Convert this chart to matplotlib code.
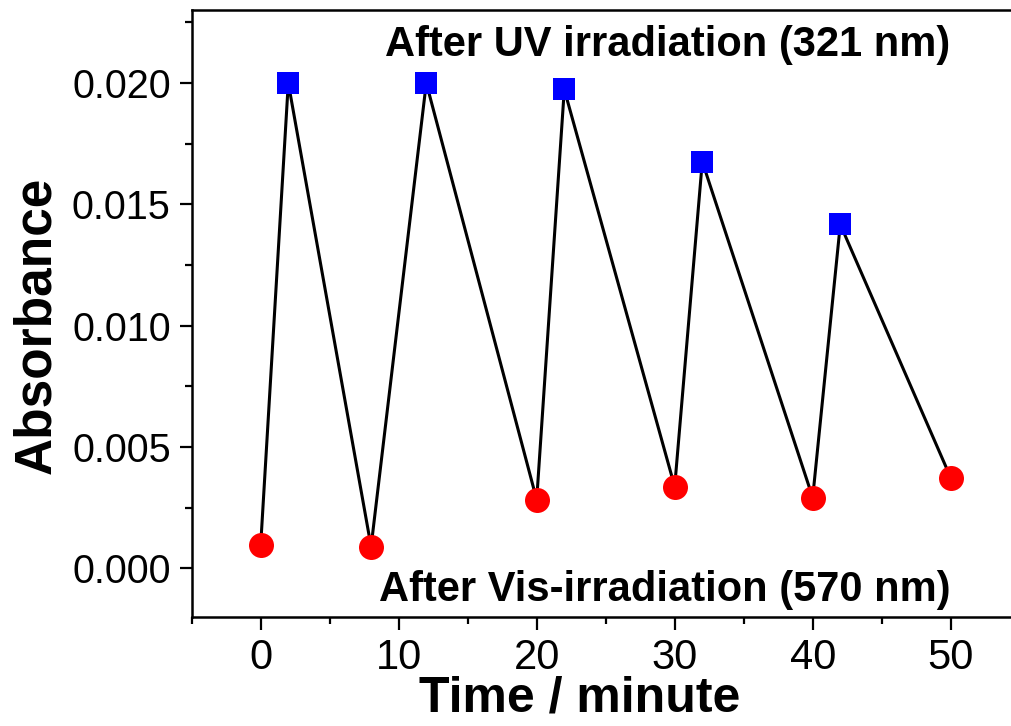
import matplotlib
matplotlib.use('Agg')
import matplotlib.pyplot as plt
from matplotlib import font_manager
from matplotlib.ticker import MultipleLocator

# Data
vis_time = [0, 8, 20, 30, 40, 50]
vis_abs = [0.00096, 0.00090, 0.00283, 0.00337, 0.00292, 0.00374]
uv_time = [2, 12, 22, 32, 42]
uv_abs = [0.0200, 0.0200, 0.01973, 0.01676, 0.01417]

# zig-zag order of measurements: vis, uv, vis, uv, ...
cycle_time = []
cycle_abs = []
for i in range(len(vis_time)):
    cycle_time.append(vis_time[i])
    cycle_abs.append(vis_abs[i])
    if i < len(uv_time):
        cycle_time.append(uv_time[i])
        cycle_abs.append(uv_abs[i])

xticks = [0, 10, 20, 30, 40, 50]
yticks = [0.000, 0.005, 0.010, 0.015, 0.020]

# pick a narrow font if available
names = {f.name for f in font_manager.fontManager.ttflist}
narrow = 'Liberation Sans Narrow' if 'Liberation Sans Narrow' in names else 'Liberation Sans'
regular = 'Liberation Sans'

fig = plt.figure(figsize=(10.11, 7.26), dpi=100)
ax = fig.add_axes([0.1896, 0.1501, 0.819, 0.836])

ax.plot(cycle_time, cycle_abs, color='black', linewidth=2.2, zorder=1)
ax.plot(uv_time, uv_abs, 's', color='#0000ff', markersize=15.5, markeredgewidth=0, zorder=2)
ax.plot(vis_time, vis_abs, 'o', color='#ff0000', markersize=18, markeredgewidth=0, zorder=2)

ax.set_xlim(-5, 55)
ax.set_ylim(-0.002, 0.023)
ax.set_xticks(xticks)
ax.set_yticks(yticks)
ax.set_yticklabels([f'{v:.3f}' for v in yticks], fontfamily=regular, fontsize=28.5)
ax.set_xticklabels([str(v) for v in xticks], fontfamily=narrow, fontsize=30)
ax.xaxis.set_minor_locator(MultipleLocator(5))
ax.yaxis.set_minor_locator(MultipleLocator(0.0025))
ax.tick_params(which='major', direction='out', length=9, width=1.6, pad=6)
ax.tick_params(which='minor', direction='out', length=5, width=1.6)
ax.tick_params(top=False, right=False)
for s in ax.spines.values():
    s.set_linewidth(1.8)

ax.set_xlabel('Time / minute', fontfamily=narrow, fontweight='bold', fontsize=36, labelpad=-2)
ax.xaxis.label.set_x(0.469)
ax.set_ylabel('Absorbance', fontfamily=narrow, fontweight='bold', fontsize=37, labelpad=8)
ax.yaxis.label.set_y(0.481)

ax.text(0.916, 0.942, 'After UV irradiation (321 nm)', transform=ax.transAxes,
        ha='right', va='center', fontfamily=narrow, fontweight='bold', fontsize=30)
ax.text(0.916, 0.044, 'After Vis-irradiation (570 nm)', transform=ax.transAxes,
        ha='right', va='center', fontfamily=narrow, fontweight='bold', fontsize=30)

fig.savefig('out.png', dpi=100)
